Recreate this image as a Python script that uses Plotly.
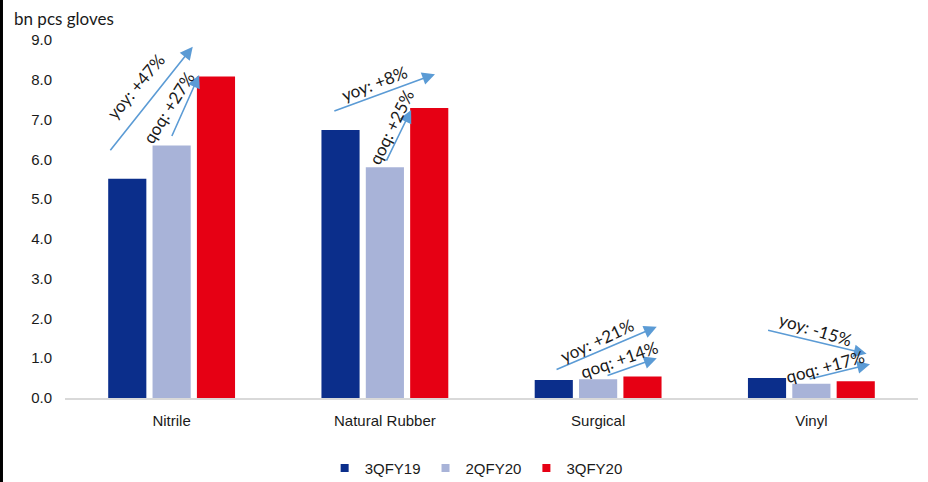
import plotly.graph_objects as go

# Glove sales volume by type, bn pieces
categories = ["Nitrile", "Natural Rubber", "Surgical", "Vinyl"]
series_names = ["3QFY19", "2QFY20", "3QFY20"]
vol_3qfy19 = [5.51, 6.74, 0.45, 0.50]
vol_2qfy20 = [6.35, 5.80, 0.47, 0.36]
vol_3qfy20 = [8.08, 7.29, 0.54, 0.42]
colors = ["#0B2E8B", "#A8B3D8", "#E60014"]

y_ticks = [0, 1, 2, 3, 4, 5, 6, 7, 8, 9]
y_tick_labels = ["0.0", "1.0", "2.0", "3.0", "4.0", "5.0", "6.0", "7.0", "8.0", "9.0"]

# growth callouts: (label, tail x, tail y, head x, head y, label x, label y, label angle)
callouts = [
    ("yoy: +47%", -0.293, 6.19, 0.099, 8.83, -0.168, 7.82, -50),
    ("qoq: +27%", -0.002, 6.55, 0.129, 8.12, -0.015, 7.31, -58),
    ("yoy: +8%", 0.756, 7.20, 1.235, 8.14, 0.949, 7.91, -21),
    ("qoq: +25%", 1.004, 5.93, 1.123, 7.24, 1.032, 6.82, -64),
    ("yoy: +21%", 1.798, 0.70, 2.275, 1.79, 1.996, 1.44, -25),
    ("qoq: +14%", 2.037, 0.55, 2.275, 1.00, 2.098, 0.97, -19),
    ("yoy: -15%", 2.790, 1.71, 3.259, 1.11, 3.017, 1.71, 17),
    ("qoq: +17%", 2.985, 0.47, 3.275, 0.85, 3.064, 0.79, -15),
]

fig = go.Figure()
for name, vals, col in zip(series_names, [vol_3qfy19, vol_2qfy20, vol_3qfy20], colors):
    fig.add_trace(go.Bar(x=categories, y=vals, name=name, showlegend=False,
                         marker=dict(color=col, line=dict(width=0))))
# compact square legend keys
for name, col in zip(series_names, colors):
    fig.add_trace(go.Scatter(x=[None], y=[None], mode="markers", name=name,
                             marker=dict(symbol="square", size=8, color=col)))

annotations = []
for label, tx, ty, hx, hy, lx, ly, ang in callouts:
    annotations.append(dict(
        x=hx, y=hy, ax=tx, ay=ty, xref="x", yref="y", axref="x", ayref="y",
        text="", showarrow=True, arrowhead=2, arrowsize=1.6, arrowwidth=1.6,
        arrowcolor="#5B9BD5", standoff=0, startstandoff=0,
    ))
    annotations.append(dict(
        x=lx, y=ly, xref="x", yref="y", text=label, showarrow=False,
        textangle=ang, font=dict(family="Lato", size=17, color="#1a1a1a"),
    ))

annotations.append(dict(
    x=-0.0621, y=1.061, xref="paper", yref="paper", xanchor="left", yanchor="middle",
    text="bn pcs gloves", showarrow=False,
    font=dict(family="Lato", size=17, color="#1a1a1a"),
))

fig.update_layout(
    width=928, height=482,
    margin=dict(l=65, r=10, t=40, b=84, autoexpand=False),
    paper_bgcolor="white", plot_bgcolor="white",
    barmode="group", bargap=0.376, bargroupgap=0.14,
    font=dict(family="Liberation Sans", size=15, color="#1a1a1a"),
    showlegend=True,
    legend=dict(orientation="h", x=0.482, xanchor="center", y=-0.196, yanchor="middle",
                font=dict(family="Liberation Sans", size=15, color="#1a1a1a"),
                itemwidth=30, traceorder="normal"),
    annotations=annotations,
    shapes=[dict(type="rect", xref="paper", yref="paper",
                 x0=-0.0762, x1=-0.0727, y0=-0.235, y1=1.112,
                 fillcolor="black", line=dict(width=0), layer="above")],
)
fig.update_xaxes(range=[-0.5, 3.5], showline=True, linecolor="#D9D9D9", linewidth=1.5,
                 showgrid=False, ticks="", ticklabelstandoff=8, zeroline=False)
fig.update_yaxes(range=[0, 9], tickvals=y_ticks, ticktext=y_tick_labels, showgrid=False,
                 showline=False, zeroline=False, ticks="", ticklabelstandoff=12)

fig.write_html("out.html")
